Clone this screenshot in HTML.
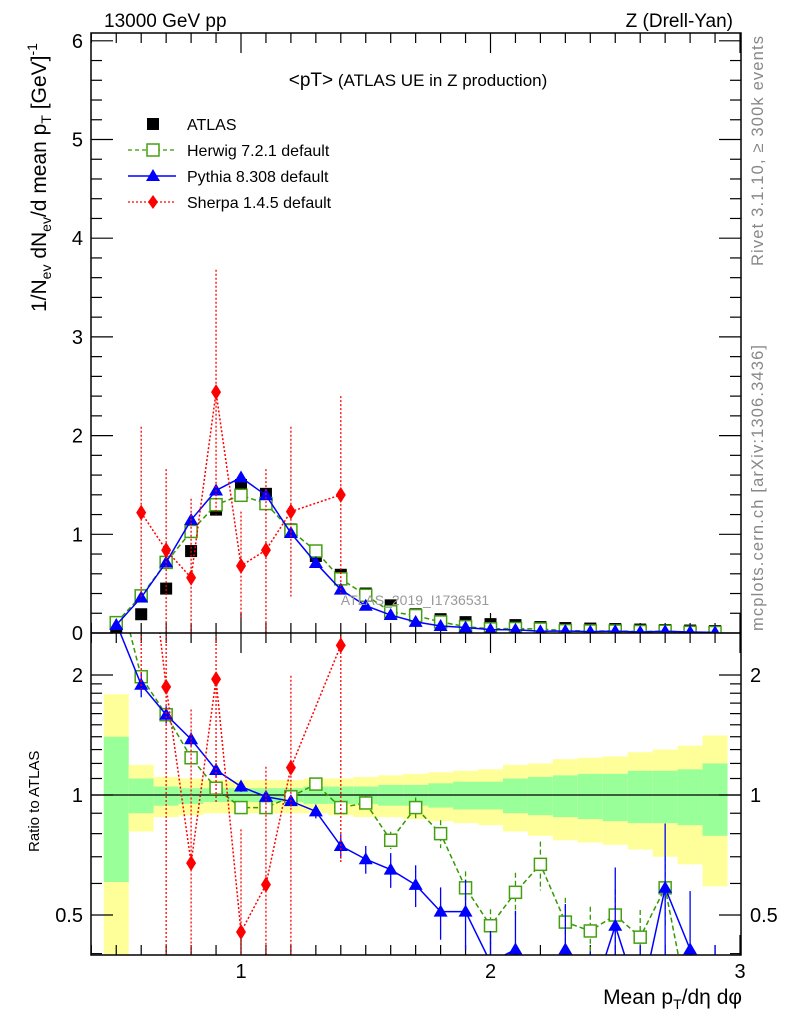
<!DOCTYPE html>
<html><head><meta charset="utf-8"><style>
html,body{margin:0;padding:0;background:#fff;width:786px;height:1024px;overflow:hidden;}
svg{display:block;font-family:"Liberation Sans",sans-serif;}
</style></head><body>
<svg id="chart" width="786" height="1024" viewBox="0 0 786 1024" xmlns="http://www.w3.org/2000/svg">
<defs>
<clipPath id="clipMain"><rect x="91" y="33" width="650" height="600"/></clipPath>
<clipPath id="clipRatio"><rect x="91" y="633" width="650" height="322"/></clipPath>
</defs>
<g id="bands" clip-path="url(#clipRatio)"></g>
<g id="ticks"></g>
<line x1="91" y1="795" x2="741" y2="795" stroke="#000" stroke-width="1.3"/>
<g id="mainMarks" clip-path="url(#clipMain)"></g>
<g id="ratioMarks" clip-path="url(#clipRatio)"></g>
<rect x="91" y="33" width="650" height="922" fill="none" stroke="#000" stroke-width="1.5"/>
<line x1="91" y1="633" x2="741" y2="633" stroke="#000" stroke-width="1.5"/>
<g id="labels" font-size="20"></g>
<text x="104" y="27" font-size="19">13000 GeV pp</text>
<text x="733" y="27" font-size="19" text-anchor="end">Z (Drell-Yan)</text>
<text x="418" y="86" font-size="17" text-anchor="middle"><tspan font-size="19">&lt;pT&gt;</tspan> (ATLAS UE in Z production)</text>
<text x="415" y="605" font-size="14" fill="#999" text-anchor="middle">ATLAS_2019_I1736531</text>
<text transform="translate(763,266) rotate(-90)" font-size="16.5" fill="#888" textLength="230">Rivet 3.1.10, ≥ 300k events</text>
<text transform="translate(763,631) rotate(-90)" font-size="16.5" fill="#888" textLength="286">mcplots.cern.ch [arXiv:1306.3436]</text>
<text transform="translate(46,312) rotate(-90)" font-size="21">1/N<tspan font-size="14" dy="5">ev</tspan><tspan dy="-5"> dN</tspan><tspan font-size="14" dy="5">ev</tspan><tspan dy="-5">/d mean p</tspan><tspan font-size="14" dy="5">T</tspan><tspan dy="-5"> [GeV]</tspan><tspan font-size="14" dy="-9">-1</tspan></text>
<text transform="translate(39,852) rotate(-90)" font-size="15">Ratio to ATLAS</text>
<text x="742" y="1004" font-size="21" text-anchor="end">Mean p<tspan font-size="14" dy="5">T</tspan><tspan dy="-5">/dη dφ</tspan></text>
<g id="legend" font-size="16">
 <g><rect x="147" y="118" width="12" height="12" fill="#000"/><text x="187" y="130">ATLAS</text></g>
 <g><line x1="128" y1="150" x2="176" y2="150" stroke="#339900" stroke-dasharray="4,3" stroke-width="1.3"/><rect x="147" y="144" width="12" height="12" fill="#fff" stroke="#44a010" stroke-width="1.5"/><text x="187" y="156">Herwig 7.2.1 default</text></g>
 <g><line x1="128" y1="176" x2="176" y2="176" stroke="#0000ff" stroke-width="1.5"/><polygon points="153,169 160,181 146,181" fill="#0000ff"/><text x="187" y="182">Pythia 8.308 default</text></g>
 <g><line x1="128" y1="202" x2="176" y2="202" stroke="#ff0000" stroke-dasharray="2,2" stroke-width="1.3"/><polygon points="153,195 158,202 153,209 148,202" fill="#ff0000"/><text x="187" y="208">Sherpa 1.4.5 default</text></g>
</g>
</svg>
<script>
const bins = [0.5,0.6,0.7,0.8,0.9,1.0,1.1,1.2,1.3,1.4,1.5,1.6,1.7,1.8,1.9,2.0,2.1,2.2,2.3,2.4,2.5,2.6,2.7,2.8,2.9];
const atlas = [0.03,0.19,0.45,0.83,1.25,1.50,1.41,1.05,0.78,0.59,0.40,0.28,0.19,0.14,0.11,0.09,0.08,0.06,0.05,0.045,0.04,0.035,0.03,0.025,0.02];
const herwigRatio = [3.5,1.98,1.59,1.24,1.04,0.93,0.93,0.99,1.065,0.93,0.955,0.77,0.93,0.80,0.585,0.47,0.57,0.67,0.48,0.456,0.50,0.44,0.585,0.28,0.28];
const herwigErr = [0.03,0.04,0.03,0.03,0.02,0.02,0.02,0.02,0.03,0.04,0.04,0.05,0.06,0.08,0.1,0.1,0.12,0.14,0.15,0.15,0.16,0.17,0.2,0.25,0.3];
const pythiaRatio = [2.7,1.89,1.59,1.38,1.155,1.05,0.99,0.965,0.91,0.745,0.69,0.65,0.595,0.51,0.51,0.38,0.41,0.3,0.41,0.3,0.47,0.3,0.585,0.41,0.3];
const pythiaErr = [0.05,0.07,0.05,0.04,0.04,0.03,0.03,0.03,0.04,0.07,0.08,0.1,0.12,0.15,0.2,0.2,0.25,0.3,0.3,0.35,0.4,0.4,0.45,0.4,0.4];
const sherpaBins = [0.6,0.7,0.8,0.9,1.0,1.1,1.2,1.4];
const sherpaVals = [1.22,0.84,0.56,2.44,0.68,0.84,1.23,1.40];
const sherpaErr = [0.87,0.82,0.80,1.24,0.55,0.82,0.86,1.0];
const yellowHi = [1.79,1.19,1.11,1.10,1.09,1.09,1.09,1.09,1.10,1.10,1.11,1.12,1.13,1.14,1.15,1.16,1.19,1.20,1.23,1.24,1.25,1.28,1.30,1.33,1.41];
const greenHi = [1.40,1.10,1.05,1.04,1.04,1.04,1.04,1.04,1.05,1.05,1.05,1.06,1.06,1.07,1.08,1.08,1.10,1.11,1.12,1.13,1.13,1.15,1.15,1.16,1.20];
const greenLo = [0.605,0.90,0.94,0.95,0.96,0.96,0.96,0.96,0.95,0.95,0.95,0.94,0.94,0.93,0.92,0.92,0.90,0.89,0.88,0.87,0.86,0.85,0.85,0.84,0.79];
const yellowLo = [0.3,0.81,0.88,0.89,0.90,0.90,0.90,0.90,0.90,0.89,0.88,0.88,0.87,0.86,0.85,0.84,0.81,0.79,0.77,0.76,0.75,0.73,0.70,0.67,0.59];
const mainTicks = [0,1,2,3,4,5,6];
const ratioTicks = [0.5,1,2];
const xTicks = [1,2,3];

const NS='http://www.w3.org/2000/svg';
const X = v => 241 + (v-1)*249.5;
const Y = v => 633 - 98.7*v;
const R = r => 795 - 398.7*Math.log10(r);
const clampMain = y => Math.min(700, Math.max(20, y));
const clampRatio = y => Math.min(990, Math.max(600, y));
function mk(tag, attrs, parent){const e=document.createElementNS(NS,tag);for(const k in attrs)e.setAttribute(k,attrs[k]);parent.appendChild(e);return e;}
const bands=document.getElementById('bands'), ticks=document.getElementById('ticks'), labels=document.getElementById('labels');
const mainG=document.getElementById('mainMarks'), ratioG=document.getElementById('ratioMarks');

bins.forEach((b,i)=>{
  const x0=X(b-0.05), w=X(b+0.05)-x0;
  const yh=clampRatio(R(yellowHi[i])), yl=clampRatio(R(yellowLo[i]));
  let e=mk('rect',{x:x0,y:yh,width:w,height:yl-yh,fill:'#ffff99'},bands);
  
  
  e=mk('rect',{x:x0,y:R(greenHi[i]),width:w,height:R(greenLo[i])-R(greenHi[i]),fill:'#99ff99'},bands);
  
  
});

for(let v=0;v<=6.05;v+=0.2){const maj=Math.abs(v-Math.round(v))<1e-6;const y=Y(v);const L=maj?22:11;
  mk('line',{x1:91,y1:y,x2:91+L,y2:y,stroke:'#000','stroke-width':1.2},ticks);
  mk('line',{x1:741,y1:y,x2:741-L,y2:y,stroke:'#000','stroke-width':1.2},ticks);}
mainTicks.forEach(v=>{const t=mk('text',{x:83,y:Y(v)+7,'text-anchor':'end'},labels);t.textContent=v;
  
  });
for(let k=4;k<=30;k++){const v=k/10;const maj=k%10===0;const x=X(v);if(x<91||x>741)continue;const L=maj?20:10;
  mk('line',{x1:x,y1:633,x2:x,y2:633-L,stroke:'#000','stroke-width':1.2},ticks);
  mk('line',{x1:x,y1:33,x2:x,y2:33+L,stroke:'#000','stroke-width':1.2},ticks);
  mk('line',{x1:x,y1:955,x2:x,y2:955-L,stroke:'#000','stroke-width':1.2},ticks);
  mk('line',{x1:x,y1:633,x2:x,y2:633+L,stroke:'#000','stroke-width':1.2},ticks);}
xTicks.forEach(v=>{const t=mk('text',{x:X(v),y:978,'text-anchor':'middle'},labels);t.textContent=v;
  
  });
for(let r=0.4;r<=2.5;r+=(r<1.95?0.1:0.5)){const y=R(r);if(y<633||y>955)continue;
  const maj=[0.5,1,2].some(m=>Math.abs(m-r)<1e-6);const L=maj?22:11;
  mk('line',{x1:91,y1:y,x2:91+L,y2:y,stroke:'#000','stroke-width':1.2},ticks);
  mk('line',{x1:741,y1:y,x2:741-L,y2:y,stroke:'#000','stroke-width':1.2},ticks);}
ratioTicks.forEach(v=>{let t=mk('text',{x:83,y:R(v)+7,'text-anchor':'end'},labels);t.textContent=v;
  
  
  t=mk('text',{x:750,y:R(v)+7},labels);t.textContent=v;
  
  });

function series(g, xs, ys, errLo, errHi, color, dash, marker, fn, cl){
  const pts=xs.map((b,i)=>X(b)+','+fn(ys[i])).join(' ');
  const pl=mk('polyline',{points:pts,fill:'none',stroke:color,'stroke-width':1.5,'stroke-dasharray':dash},g);
  
  
  xs.forEach((b,i)=>{const x=X(b);
    const eb=mk('line',{x1:x,y1:cl(fn(errHi[i])),x2:x,y2:cl(fn(errLo[i])),stroke:color,'stroke-width':1.3,'stroke-dasharray':dash},g);
    
    
    const y=fn(ys[i]); let m;
    if(marker==='sq') m=mk('rect',{x:x-6,y:y-6,width:12,height:12,fill:'#fff',stroke:'#44a010','stroke-width':1.5},g);
    else if(marker==='tri') m=mk('polygon',{points:`${x},${y-7} ${x+7},${y+5} ${x-7},${y+5}`,fill:color},g);
    else m=mk('polygon',{points:`${x},${y-8} ${x+5},${y} ${x},${y+8} ${x-5},${y}`,fill:color},g);
    
    
  });
}
const SAFE=v=>Math.max(v,1e-4);
bins.forEach((b,i)=>{const m=mk('rect',{x:X(b)-6,y:Y(atlas[i])-6,width:12,height:12,fill:'#000'},mainG);
  
  });
const hv=bins.map((b,i)=>atlas[i]*herwigRatio[i]);
series(mainG,bins,hv,hv.map((v,i)=>v*(1-herwigErr[i])),hv.map((v,i)=>v*(1+herwigErr[i])),'#339900','5,3','sq',Y,clampMain);
const pv=bins.map((b,i)=>atlas[i]*pythiaRatio[i]);
series(mainG,bins,pv,pv.map((v,i)=>v*(1-pythiaErr[i])),pv.map((v,i)=>v*(1+pythiaErr[i])),'#0000ff','','tri',Y,clampMain);
series(mainG,sherpaBins,sherpaVals,sherpaVals.map((v,i)=>v-sherpaErr[i]),sherpaVals.map((v,i)=>v+sherpaErr[i]),'#ff0000','2,2','dia',Y,clampMain);
series(ratioG,bins,herwigRatio,herwigRatio.map((v,i)=>v*(1-herwigErr[i])),herwigRatio.map((v,i)=>v*(1+herwigErr[i])),'#339900','5,3','sq',R,clampRatio);
series(ratioG,bins,pythiaRatio,pythiaRatio.map((v,i)=>v*(1-pythiaErr[i])),pythiaRatio.map((v,i)=>v*(1+pythiaErr[i])),'#0000ff','','tri',R,clampRatio);
const sAt=sherpaBins.map(b=>atlas[bins.findIndex(x=>Math.abs(x-b)<1e-6)]);
const sr=sherpaVals.map((v,i)=>v/sAt[i]);
series(ratioG,sherpaBins,sr,sherpaVals.map((v,i)=>SAFE((v-sherpaErr[i])/sAt[i])),sherpaVals.map((v,i)=>(v+sherpaErr[i])/sAt[i]),'#ff0000','2,2','dia',R,clampRatio);
</script>
</body></html>
